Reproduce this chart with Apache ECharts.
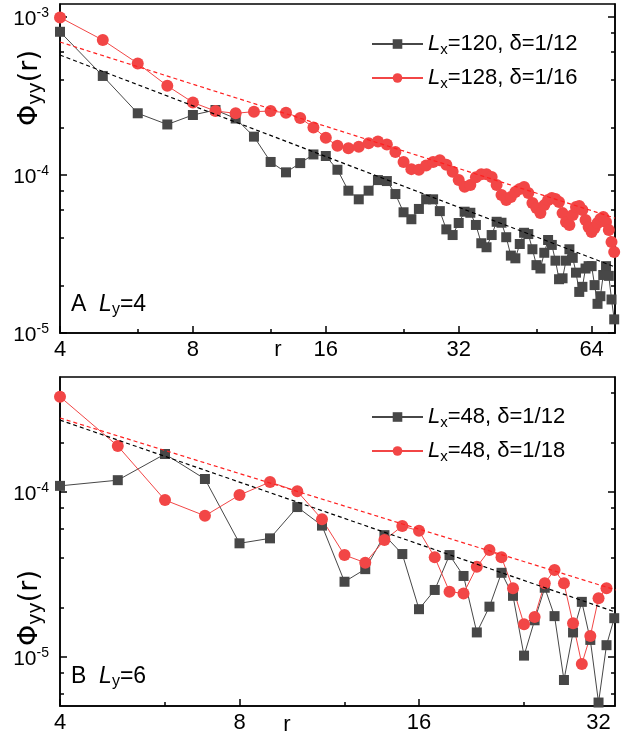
<!DOCTYPE html>
<html><head><meta charset="utf-8">
<script src="https://cdn.jsdelivr.net/npm/echarts@6/dist/echarts.min.js"></script>
<style>html,body{margin:0;padding:0;background:#fff}#c{width:638px;height:741px}</style>
</head><body><div id="c"></div>
<script>
// ---------- data ----------
const rTop = [4,5,6,7,8,9,10,11,12,13,14,15,16,17,18,19,20,21,22,23,24,25,26,27,28,29,30,31,32,33,34,35,36,37,38,39,40,41,42,43,44,45,46,47,48,49,50,51,52,53,54,55,56,57,58,59,60,61,62,63,64,65,66,67,68,69,70,71,72];
const phiTopLx120 = [8.07e-4,4.24e-4,2.46e-4,2.09e-4,2.40e-4,2.58e-4,2.28e-4,1.75e-4,1.21e-4,1.04e-4,
  1.19e-4,1.35e-4,1.32e-4,1.08e-4,7.96e-5,7.02e-5,7.96e-5,9.29e-5,9.16e-5,7.58e-5,
  5.81e-5,5.25e-5,6.10e-5,7.02e-5,7.02e-5,5.91e-5,4.53e-5,4.17e-5,4.97e-5,5.86e-5,
  5.77e-5,4.83e-5,3.70e-5,3.49e-5,4.17e-5,5.06e-5,4.99e-5,4.04e-5,3.09e-5,2.97e-5,
  3.66e-5,4.31e-5,4.23e-5,3.39e-5,2.69e-5,2.56e-5,3.22e-5,3.88e-5,3.61e-5,2.87e-5,
  2.19e-5,2.22e-5,2.87e-5,3.39e-5,2.99e-5,2.41e-5,1.82e-5,1.96e-5,2.56e-5,2.65e-5,
  2.65e-5,2.01e-5,1.53e-5,1.71e-5,2.33e-5,2.65e-5,2.30e-5,1.63e-5,1.22e-5];
const phiTopLx128 = [9.95e-4,7.15e-4,5.09e-4,3.67e-4,2.88e-4,2.54e-4,2.46e-4,2.52e-4,2.54e-4,2.48e-4,
  2.30e-4,2.00e-4,1.72e-4,1.53e-4,1.48e-4,1.51e-4,1.59e-4,1.63e-4,1.56e-4,1.40e-4,
  1.21e-4,1.09e-4,1.08e-4,1.15e-4,1.21e-4,1.24e-4,1.16e-4,1.05e-4,9.29e-5,8.43e-5,
  8.64e-5,9.67e-5,1.01e-4,1.01e-4,9.71e-5,8.64e-5,7.47e-5,6.95e-5,7.26e-5,7.80e-5,
  8.15e-5,8.39e-5,7.69e-5,6.65e-5,6.18e-5,5.74e-5,6.45e-5,6.95e-5,7.15e-5,7.05e-5,
  6.75e-5,5.74e-5,5.04e-5,4.83e-5,5.58e-5,6.27e-5,6.37e-5,6.00e-5,5.19e-5,4.69e-5,
  4.36e-5,4.62e-5,4.97e-5,5.27e-5,5.42e-5,5.04e-5,4.49e-5,3.77e-5,3.26e-5];
const fitTopLx120 = [[4,5.75e-4],[72.3,2.62e-5]];
const fitTopLx128 = [[4,6.95e-4],[72.3,5.34e-5]];

const rBot = [4,5,6,7,8,9,10,11,12,13,14,15,16,17,18,19,20,21,22,23,24,25,26,27,28,29,30,31,32,33,34];
const phiBotD12 = [1.09e-4,1.18e-4,1.70e-4,1.20e-4,4.89e-5,5.24e-5,8.11e-5,6.26e-5,2.86e-5,3.41e-5,
  5.48e-5,4.21e-5,1.95e-5,2.55e-5,4.15e-5,3.10e-5,1.41e-5,2.02e-5,3.24e-5,2.35e-5,
  1.02e-5,1.67e-5,2.63e-5,1.77e-5,7.26e-6,1.41e-5,2.16e-5,1.27e-5,5.3e-6,1.18e-5,1.72e-5];
const phiBotD18 = [3.78e-4,1.90e-4,8.94e-5,7.18e-5,9.59e-5,1.15e-4,1.01e-4,6.84e-5,4.15e-5,3.73e-5,
  5.12e-5,6.22e-5,5.82e-5,4.02e-5,2.49e-5,2.43e-5,3.52e-5,4.45e-5,4.02e-5,2.61e-5,
  1.58e-5,1.75e-5,2.80e-5,3.37e-5,2.80e-5,1.60e-5,9.08e-6,1.34e-5,2.27e-5,2.61e-5];
const fitBotD12 = [[4,2.73e-4],[34.2,1.87e-5]];
const fitBotD18 = [[4,2.81e-4],[34.2,2.55e-5]];

const namesTop = ['Lx=120, δ=1/12','Lx=128, δ=1/16'];
const namesBot = ['Lx=48, δ=1/12','Lx=48, δ=1/18'];

const xRangeTop = [4,72.3], yRangeTop = [1e-5,1.21e-3];
const xRangeBot = [4,34.1], yRangeBot = [5.05e-6,4.98e-4];
const xTicksTop = [4,8,16,32,64], xMinorTop = [6,12,24,48];
const xTicksBot = [4,8,16,32], xMinorBot = [6,12,24];
const yTicksTop = [1e-5,1e-4,1e-3], yMinorTop = [2e-5,4e-5,6e-5,8e-5,2e-4,4e-4,6e-4,8e-4];
const yTicksBot = [1e-5,1e-4], yMinorBot = [6e-6,8e-6,2e-5,4e-5,6e-5,8e-5,2e-4,4e-4];

// ---------- helpers ----------
const FONT = '"Liberation Sans", Arial, Helvetica, sans-serif';
const WIDE = '"DejaVu Sans", "Liberation Sans", Arial, sans-serif';
const L2 = v => Math.log2(v), L10 = v => Math.log10(v);
const BLACK = '#474747', RED = '#f24646';
const AX = {color:'#000', width:1.5};

function xAxes(grid, range, major, minor){
  const base = {type:'value', gridIndex:grid, min:L2(range[0]), max:L2(range[1]), position:'bottom',
    splitLine:{show:false}};
  return [
    Object.assign({}, base, {
      axisLine:{show:true, onZero:false, lineStyle:AX},
      axisTick:{show:true, inside:true, length:7, lineStyle:AX, customValues:major.map(L2)},
      axisLabel:{show:true, customValues:major.map(L2), margin:6, color:'#000', fontSize:22, fontFamily:FONT,
        formatter:v=>String(Math.round(Math.pow(2,v)))}
    }),
    Object.assign({}, base, {
      axisLine:{show:false, onZero:false},
      axisTick:{show:true, inside:true, length:4, lineStyle:AX, customValues:minor.map(L2)},
      axisLabel:{show:false}
    })
  ];
}
function yAxes(grid, range, major, minor){
  const base = {type:'value', gridIndex:grid, min:L10(range[0]), max:L10(range[1]), splitLine:{show:false}};
  const out = [];
  ['left','right'].forEach(pos=>{
    out.push(Object.assign({}, base, {position:pos,
      axisLine:{show:true, onZero:false, lineStyle:AX},
      axisTick:{show:true, inside:true, length:7, lineStyle:AX, customValues:major.map(L10)},
      axisLabel: pos==='left' ? {show:true, customValues:major.map(L10), margin:11, padding:[4,0,0,0],
        formatter:v=>'{b|10}{s|'+Math.round(v)+'}',
        rich:{b:{fontSize:21, fontFamily:FONT, color:'#000', lineHeight:26},
              s:{fontSize:14, fontFamily:FONT, color:'#000', verticalAlign:'top', lineHeight:14}}} : {show:false}
    }));
    out.push(Object.assign({}, base, {position:pos,
      axisLine:{show:false, onZero:false},
      axisTick:{show:true, inside:true, length:4, lineStyle:AX, customValues:minor.map(L10)},
      axisLabel:{show:false}
    }));
  });
  return out;
}
function pts(rs, vs){ return vs.map((v,i)=>[L2(rs[i]), L10(v)]); }
function dataSeries(name, rs, vs, xi, yi, square){
  return {name, type:'line', xAxisIndex:xi, yAxisIndex:yi, data:pts(rs,vs),
    symbol: square ? 'rect' : 'circle', symbolSize: square ? 10 : 12, showAllSymbol:true,
    itemStyle:{color: square ? BLACK : RED},
    lineStyle:{color: square ? BLACK : RED, width:1}, z:2, animation:false};
}
function fitSeries(pairs, xi, yi, color){
  return {type:'line', xAxisIndex:xi, yAxisIndex:yi, data:pairs.map(p=>[L2(p[0]), L10(p[1])]),
    symbol:'none', lineStyle:{color, width:1.2, type:[4,3]}, z:4, silent:true, animation:false};
}
const legendRich = {
  i:{fontStyle:'italic', fontSize:22, fontFamily:FONT, color:'#000', lineHeight:26},
  s:{fontSize:15, fontFamily:FONT, color:'#000', verticalAlign:'bottom', lineHeight:8},
  t:{fontSize:22, fontFamily:FONT, color:'#000', lineHeight:26}
};
const legendFmt = name => '{i|L}{s|x}{t|' + name.slice(2) + '}';
function legend(names, top){
  return {data:names, left:366, top, orient:'vertical', itemWidth:51, itemHeight:12, itemGap:10,
    selectedMode:false, formatter:legendFmt, textStyle:{rich:legendRich, fontSize:22, color:'#000'}};
}
const titleRich = {a:{fontSize:27, fontFamily:WIDE, fill:'#000', lineHeight:32},
                   s:{fontSize:19, fontFamily:WIDE, fill:'#000', verticalAlign:'bottom', lineHeight:10}};
const panelRich = {t:{fontSize:23, fontFamily:FONT, fill:'#000', lineHeight:26},
                   i:{fontSize:23, fontStyle:'italic', fontFamily:FONT, fill:'#000', lineHeight:26},
                   s:{fontSize:16, fontFamily:FONT, fill:'#000', verticalAlign:'bottom', lineHeight:8}};

const option = {
  animation:false,
  backgroundColor:'#fff',
  textStyle:{fontFamily:FONT},
  grid:[
    {left:60, top:4, width:555, height:329, show:true, borderColor:'#000', borderWidth:1.5, backgroundColor:'transparent'},
    {left:60, top:377, width:555, height:329, show:true, borderColor:'#000', borderWidth:1.5, backgroundColor:'transparent'}
  ],
  xAxis:[].concat(xAxes(0, xRangeTop, xTicksTop, xMinorTop), xAxes(1, xRangeBot, xTicksBot, xMinorBot)),
  yAxis:[].concat(yAxes(0, yRangeTop, yTicksTop, yMinorTop), yAxes(1, yRangeBot, yTicksBot, yMinorBot)),
  legend:[legend(namesTop, 28), legend(namesBot, 401)],
  series:[
    dataSeries(namesTop[0], rTop, phiTopLx120, 0, 0, true),
    dataSeries(namesTop[1], rTop, phiTopLx128, 0, 0, false),
    fitSeries(fitTopLx120, 0, 0, '#000'),
    fitSeries(fitTopLx128, 0, 0, '#ff2020'),
    dataSeries(namesBot[0], rBot, phiBotD12, 2, 4, true),
    dataSeries(namesBot[1], rBot, phiBotD18, 2, 4, false),
    fitSeries(fitBotD12, 2, 4, '#000'),
    fitSeries(fitBotD18, 2, 4, '#ff2020')
  ],
  graphic:[
    {type:'text', x:30, y:88, rotation:Math.PI/2, style:{text:'{a|Φ}{s|yy}{a|(r)}', align:'center', verticalAlign:'middle', rich:titleRich}},
    {type:'text', x:30, y:608, rotation:Math.PI/2, style:{text:'{a|Φ}{s|yy}{a|(r)}', align:'center', verticalAlign:'middle', rich:titleRich}},
    {type:'text', x:71, y:305, style:{text:'{t|A  }{i|L}{s|y}{t|=4}', align:'left', verticalAlign:'middle', rich:panelRich}},
    {type:'text', x:71, y:677, style:{text:'{t|B  }{i|L}{s|y}{t|=6}', align:'left', verticalAlign:'middle', rich:panelRich}},
    {type:'text', x:278, y:350, style:{text:'r', fontSize:22, fontFamily:FONT, fill:'#000', align:'center', verticalAlign:'middle'}},
    {type:'text', x:287, y:725, style:{text:'r', fontSize:22, fontFamily:FONT, fill:'#000', align:'center', verticalAlign:'middle'}}
  ]
};
const chart = echarts.init(document.getElementById('c'), null, {renderer:'canvas'});
chart.setOption(option);
</script></body></html>
